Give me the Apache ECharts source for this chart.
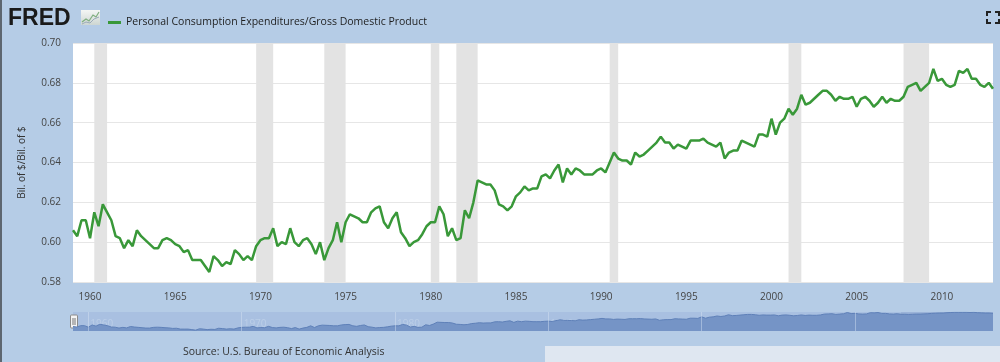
<!DOCTYPE html>
<html><head><meta charset="utf-8">
<script src="https://cdn.jsdelivr.net/npm/echarts@6/dist/echarts.min.js"></script>
<style>html,body{margin:0;padding:0;background:#b5cce6}#c{width:1000px;height:362px}</style>
</head><body><div id="c"></div>
<script>
// Quarterly values, first quarter of 1959 onward
const startYear = 1959;
const pce1959_1969 = [
  0.606, 0.603, 0.611, 0.611,
  0.602, 0.615, 0.608, 0.619,
  0.615, 0.611, 0.603, 0.602,
  0.597, 0.601, 0.598, 0.606,
  0.603, 0.601, 0.599, 0.597,
  0.597, 0.601, 0.602, 0.601,
  0.599, 0.598, 0.595, 0.596,
  0.591, 0.591, 0.591, 0.588,
  0.585, 0.593, 0.591, 0.588,
  0.590, 0.589, 0.596, 0.594,
  0.591, 0.593, 0.591, 0.598
];
const pce1970_1980 = [
  0.601, 0.602, 0.602, 0.607,
  0.598, 0.600, 0.599, 0.607,
  0.600, 0.598, 0.601, 0.602,
  0.599, 0.594, 0.600, 0.591,
  0.597, 0.601, 0.610, 0.600,
  0.610, 0.614, 0.613, 0.612,
  0.610, 0.610, 0.615, 0.617,
  0.618, 0.610, 0.607, 0.612,
  0.615, 0.605, 0.602, 0.598,
  0.600, 0.601, 0.604, 0.608,
  0.610, 0.610, 0.618, 0.614
];
const pce1981_1991 = [
  0.603, 0.607, 0.601, 0.602,
  0.616, 0.612, 0.620, 0.631,
  0.630, 0.629, 0.629, 0.626,
  0.619, 0.618, 0.616, 0.618,
  0.623, 0.625, 0.628, 0.626,
  0.627, 0.627, 0.633, 0.634,
  0.632, 0.636, 0.639, 0.630,
  0.637, 0.634, 0.637, 0.636,
  0.634, 0.634, 0.634, 0.636,
  0.637, 0.635, 0.640, 0.645,
  0.642, 0.641, 0.641, 0.639
];
const pce1992_2002 = [
  0.645, 0.643, 0.644, 0.646,
  0.648, 0.650, 0.653, 0.650,
  0.650, 0.647, 0.649, 0.648,
  0.647, 0.651, 0.651, 0.651,
  0.652, 0.650, 0.649, 0.648,
  0.650, 0.642, 0.645, 0.646,
  0.646, 0.651, 0.650, 0.649,
  0.648, 0.654, 0.654, 0.653,
  0.662, 0.654, 0.660, 0.662,
  0.667, 0.664, 0.667, 0.674,
  0.669, 0.670, 0.672, 0.674
];
const pce2003_2013 = [
  0.676, 0.676, 0.674, 0.671,
  0.673, 0.672, 0.672, 0.673,
  0.668, 0.672, 0.673, 0.671,
  0.668, 0.670, 0.673, 0.670,
  0.672, 0.671, 0.671, 0.673,
  0.678, 0.679, 0.680, 0.676,
  0.678, 0.680, 0.687, 0.681,
  0.682, 0.679, 0.678, 0.679,
  0.686, 0.685, 0.687, 0.682,
  0.682, 0.679, 0.678, 0.680,
  0.677
];
// only visible in the navigator (2013 Q2 - 2019 Q1)
const navExtra = [
  0.677, 0.676, 0.677,
  0.678, 0.678, 0.679, 0.680,
  0.682, 0.683, 0.684, 0.684,
  0.686, 0.687, 0.688, 0.688,
  0.688, 0.688, 0.687, 0.688,
  0.686, 0.685, 0.684, 0.684,
  0.682
];
const recessions = [
  [1960.25, 1961.0], [1969.75, 1970.75], [1973.75, 1975.0], [1980.0, 1980.5],
  [1981.5, 1982.75], [1990.5, 1991.0], [2001.0, 2001.75], [2007.75, 2009.25]
];
const navDecades = [1960, 1970, 1980, 1990, 2000, 2010];
const seriesName = 'Personal Consumption Expenditures/Gross Domestic Product';

const mainValues = [].concat(pce1959_1969, pce1970_1980, pce1981_1991, pce1992_2002, pce2003_2013);
const mainData = mainValues.map((v, i) => [startYear + i * 0.25, v]);
const navValues = mainValues.concat(navExtra);
const navData = navValues.map((v, i) => [startYear + i * 0.25, v]);
const mainEnd = mainData[mainData.length - 1][0];
const navEnd = navData[navData.length - 1][0];

const chart = echarts.init(document.getElementById('c'), null, {renderer: 'canvas'});
const FONT = "'Open Sans', sans-serif";
chart.setOption({
  animation: false,
  backgroundColor: '#b5cce6',
  textStyle: {fontFamily: FONT},
  legend: {
    left: 103, top: 12, icon: 'rect', itemWidth: 13, itemHeight: 3,
    textStyle: {fontSize: 10.5, color: '#1e1e1e', fontFamily: FONT},
    data: [seriesName], selectedMode: false
  },
  grid: [
    {left: 73, right: 7, top: 43, height: 239, show: true, backgroundColor: '#ffffff', borderWidth: 0},
    {left: 73, right: 7, top: 312, height: 19, show: true, backgroundColor: '#a9c0e1', borderWidth: 0}
  ],
  xAxis: [
    {type: 'value', min: startYear, max: mainEnd, interval: 1,
     axisLine: {show: false}, axisTick: {show: false}, splitLine: {show: false},
     axisLabel: {color: '#444', fontSize: 10, margin: 10,
       formatter: v => (Math.round(v) % 5 === 0 ? String(Math.round(v)) : '')}},
    {type: 'value', gridIndex: 1, min: startYear, max: navEnd, show: false, splitLine: {show: false}}
  ],
  yAxis: [
    {type: 'value', min: 0.58, max: 0.70, interval: 0.02,
     name: 'Bil. of $/Bil. of $', nameLocation: 'middle', nameGap: 46,
     nameTextStyle: {color: '#333', fontSize: 10, fontFamily: FONT},
     axisLine: {show: false}, axisTick: {show: false},
     axisLabel: {color: '#444', fontSize: 10, margin: 12, formatter: v => v.toFixed(2)},
     splitLine: {lineStyle: {color: '#e6e6e6', width: 1}}},
    {type: 'value', gridIndex: 1, min: 0.58, max: 0.69, show: false, splitLine: {show: false}}
  ],
  series: [
    {name: seriesName, type: 'line', data: mainData, showSymbol: false, symbol: 'none',
     lineStyle: {color: '#399839', width: 2.5}, itemStyle: {color: '#399839'},
     markArea: {silent: true, itemStyle: {color: '#e3e3e3'},
       data: recessions.map(r => [{xAxis: r[0]}, {xAxis: r[1]}])}},
    {type: 'line', xAxisIndex: 1, yAxisIndex: 1, data: navData, showSymbol: false, symbol: 'none',
     lineStyle: {color: '#5f80b8', width: 1}, areaStyle: {color: '#7594c6', opacity: 1, origin: 'start'},
     silent: true,
     markLine: {silent: true, symbol: ['none', 'none'], label: {show: false},
       lineStyle: {color: 'rgba(215,228,244,0.45)', width: 1, type: 'solid'},
       data: navDecades.map(y => ({xAxis: y}))},
     markArea: {silent: true, itemStyle: {color: 'rgba(80,110,165,0.15)'},
       data: [[{xAxis: mainEnd}, {xAxis: navEnd}]]}},
    {type: 'scatter', xAxisIndex: 1, yAxisIndex: 1, silent: true, symbolSize: 0,
     data: navDecades.map(y => [y, 0.62]),
     label: {show: true, position: 'right', distance: 2, formatter: p => String(p.value[0]),
       color: 'rgba(210,224,242,0.55)', fontSize: 10, fontFamily: FONT}}
  ]
});

const hx0 = chart.convertToPixel({xAxisIndex: 1}, startYear);
const hx1 = chart.convertToPixel({xAxisIndex: 1}, mainEnd);
function handle(x) {
  return {type: 'group', children: [
    {type: 'rect', shape: {x: x - 3.5, y: 315, width: 7, height: 13, r: 1},
     style: {fill: '#f4f4f4', stroke: '#8a8a8a', lineWidth: 1}},
    {type: 'line', shape: {x1: x - 1, y1: 318, x2: x - 1, y2: 325}, style: {stroke: '#777', lineWidth: 1}},
    {type: 'line', shape: {x1: x + 1, y1: 318, x2: x + 1, y2: 325}, style: {stroke: '#777', lineWidth: 1}}
  ]};
}
chart.setOption({
  graphic: [
    {type: 'rect', shape: {x: 0, y: 0, width: 2, height: 362}, style: {fill: '#5d6670'}},
    {type: 'rect', shape: {x: 545, y: 346, width: 455, height: 16}, style: {fill: '#dfe7f1'}},
    {type: 'text', x: 8, y: 7, style: {text: 'FRED', font: "bold 23px 'Liberation Sans', Arial, sans-serif", fill: '#1a1a1a'}},
    {type: 'rect', shape: {x: 81, y: 10, width: 19, height: 15},
     style: {fill: new echarts.graphic.LinearGradient(0, 0, 0, 1, [{offset: 0, color: '#f4f6f4'}, {offset: 1, color: '#cdd6d2'}])}},
    {type: 'polyline', shape: {points: [[82, 22], [86, 19], [89, 21], [93, 15], [96, 17], [99, 12]]}, style: {stroke: '#7fae7f', lineWidth: 1.2, fill: null}},
    {type: 'polyline', shape: {points: [[82, 24], [86, 22], [90, 23], [94, 19], [99, 17]]}, style: {stroke: '#9aaab8', lineWidth: 1, fill: null}},
    {type: 'polyline', shape: {points: [[987, 16], [987, 12], [991, 12]]}, style: {stroke: '#222', lineWidth: 2, fill: null}},
    {type: 'polyline', shape: {points: [[995, 12], [999, 12], [999, 16]]}, style: {stroke: '#222', lineWidth: 2, fill: null}},
    {type: 'polyline', shape: {points: [[987, 19], [987, 23], [991, 23]]}, style: {stroke: '#222', lineWidth: 2, fill: null}},
    {type: 'polyline', shape: {points: [[995, 23], [999, 23], [999, 19]]}, style: {stroke: '#222', lineWidth: 2, fill: null}},
    {type: 'text', x: 183, y: 347, style: {text: 'Source: U.S. Bureau of Economic Analysis', font: "10.5px 'Open Sans', sans-serif", fill: '#333'}},
    handle(hx0 + 1), handle(hx1)
  ]
});
</script></body></html>
